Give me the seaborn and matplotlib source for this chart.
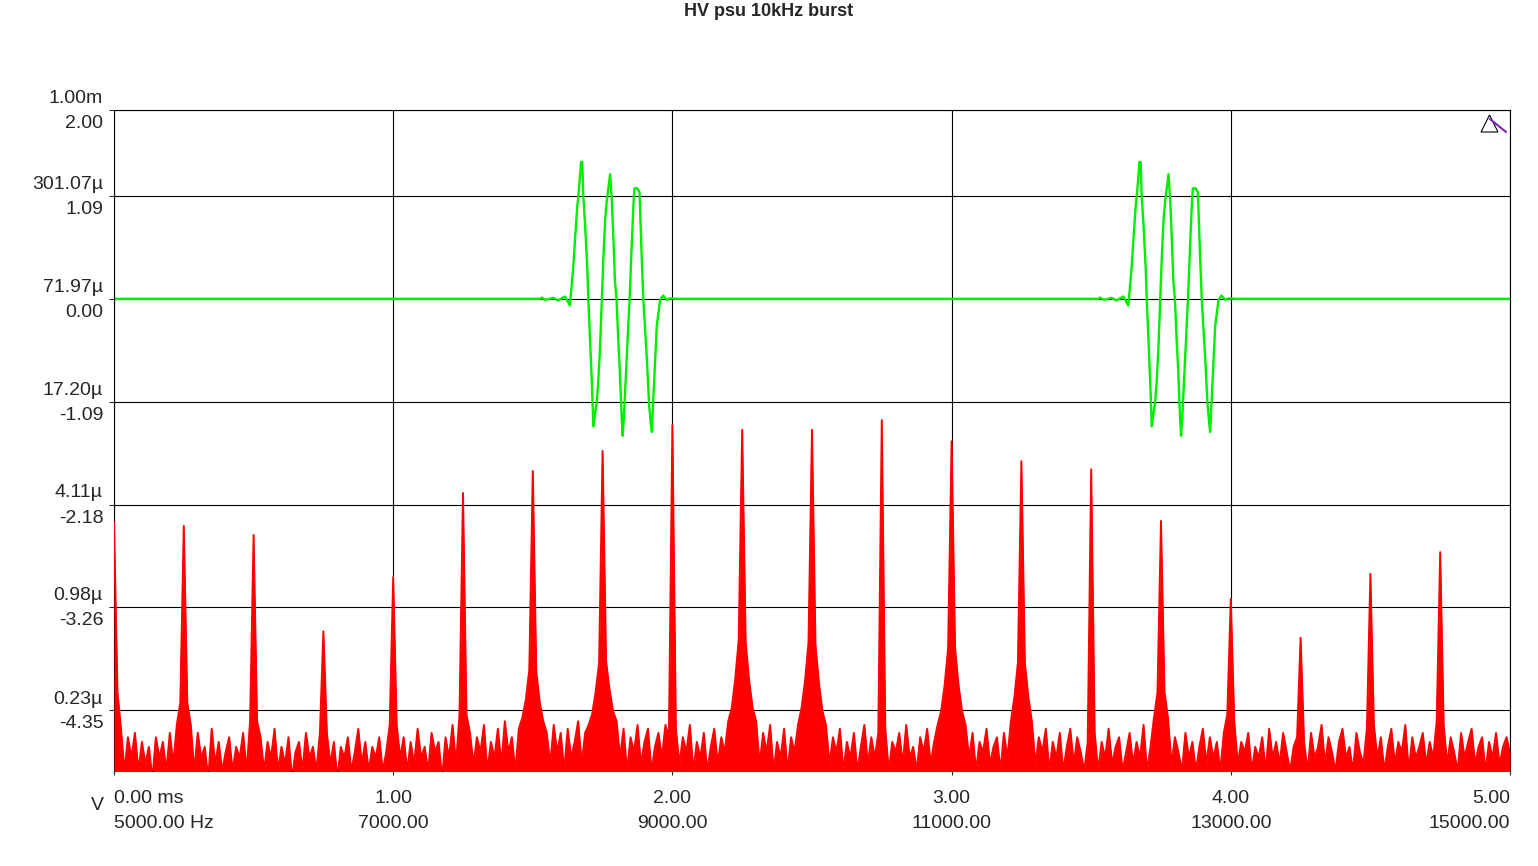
import numpy as np
import seaborn as sns
import matplotlib
matplotlib.use("Agg")
import matplotlib.pyplot as plt
from matplotlib.patches import Polygon
from matplotlib.lines import Line2D
from matplotlib.ticker import NullLocator
from matplotlib.transforms import ScaledTranslation

title = "HV psu 10kHz burst"

# green trace: one burst of the time-domain signal (ms, V), repeated every 2 ms
burst_t_ms = [1.526, 1.532, 1.544, 1.556, 1.573, 1.591, 1.615, 1.633, 1.639, 1.645,
              1.651, 1.659, 1.665, 1.673, 1.677, 1.681, 1.687, 1.695, 1.699, 1.705,
              1.711, 1.717, 1.723, 1.729, 1.735, 1.741, 1.747, 1.753, 1.759, 1.765,
              1.771, 1.777, 1.783, 1.789, 1.794, 1.800, 1.806, 1.812, 1.818, 1.822,
              1.827, 1.834, 1.842, 1.848, 1.854, 1.860, 1.864, 1.874, 1.882, 1.884,
              1.890, 1.896, 1.908, 1.917, 1.926, 1.932, 1.938, 1.944, 1.956, 1.967,
              1.980, 1.991, 2.021]
burst_v = [0.00, 0.014, -0.01, -0.003, 0.011, -0.017, 0.025, -0.07, 0.13, 0.34,
           0.62, 0.97, 1.15, 1.45, 1.45, 1.08, 0.80, 0.34, -0.01, -0.43,
           -0.85, -1.35, -1.21, -1.10, -0.85, -0.50, -0.01, 0.45, 0.83, 1.04,
           1.18, 1.32, 1.04, 0.62, 0.20, -0.01, -0.43, -0.78, -1.24, -1.45,
           -1.21, -0.78, -0.29, 0.09, 0.55, 0.97, 1.17, 1.17, 1.13, 0.97,
           0.45, -0.01, -0.61, -1.14, -1.41, -1.03, -0.64, -0.29, -0.01, 0.035,
           -0.01, 0.005, 0.0]
burst_offsets_ms = [0.0, 2.0]
time_span_ms = [0.0, 5.0]

# red trace: spectrum magnitude in 25 Hz bins, 5 kHz .. 15 kHz (uV), one row per kHz
bin_start_hz = 5000
bin_hz = 25
floor_rows_uv = [
    [0.12, 0.30, 0.18, 0.10, 0.16, 0.12, 0.17, 0.10, 0.15, 0.11, 0.14, 0.09, 0.16, 0.12, 0.15, 0.10, 0.17, 0.11, 0.19, 0.26,
     0.12, 0.26, 0.19, 0.10, 0.17, 0.12, 0.14, 0.09, 0.18, 0.11, 0.15, 0.10, 0.13, 0.16, 0.10, 0.14, 0.12, 0.17, 0.10, 0.20],
    [0.12, 0.20, 0.16, 0.10, 0.15, 0.12, 0.18, 0.10, 0.14, 0.11, 0.16, 0.09, 0.13, 0.15, 0.10, 0.17, 0.12, 0.14, 0.10, 0.17,
     0.12, 0.17, 0.11, 0.15, 0.09, 0.14, 0.12, 0.16, 0.10, 0.13, 0.18, 0.11, 0.15, 0.10, 0.14, 0.12, 0.16, 0.10, 0.13, 0.19],
    [0.12, 0.19, 0.12, 0.16, 0.10, 0.15, 0.11, 0.18, 0.12, 0.14, 0.10, 0.17, 0.13, 0.15, 0.09, 0.16, 0.12, 0.19, 0.11, 0.22,
     0.12, 0.22, 0.17, 0.11, 0.16, 0.13, 0.19, 0.10, 0.15, 0.12, 0.18, 0.11, 0.20, 0.13, 0.16, 0.10, 0.18, 0.21, 0.27, 0.41],
    [0.12, 0.40, 0.26, 0.20, 0.17, 0.11, 0.19, 0.13, 0.17, 0.10, 0.18, 0.12, 0.15, 0.20, 0.11, 0.17, 0.19, 0.22, 0.30, 0.45,
     0.12, 0.46, 0.31, 0.23, 0.20, 0.12, 0.18, 0.10, 0.16, 0.13, 0.19, 0.11, 0.15, 0.18, 0.10, 0.14, 0.17, 0.12, 0.19, 0.16],
    [0.12, 0.18, 0.11, 0.16, 0.13, 0.19, 0.10, 0.15, 0.12, 0.17, 0.10, 0.14, 0.18, 0.11, 0.16, 0.13, 0.20, 0.24, 0.36, 0.62,
     0.12, 0.60, 0.35, 0.24, 0.20, 0.11, 0.17, 0.13, 0.19, 0.10, 0.15, 0.12, 0.18, 0.10, 0.16, 0.13, 0.19, 0.24, 0.35, 0.60],
    [0.12, 0.58, 0.34, 0.23, 0.19, 0.11, 0.16, 0.13, 0.18, 0.10, 0.15, 0.12, 0.17, 0.10, 0.14, 0.19, 0.11, 0.16, 0.12, 0.17,
     0.12, 0.18, 0.10, 0.15, 0.13, 0.17, 0.11, 0.19, 0.12, 0.14, 0.10, 0.16, 0.13, 0.18, 0.11, 0.15, 0.19, 0.23, 0.33, 0.55],
    [0.12, 0.55, 0.33, 0.23, 0.19, 0.12, 0.17, 0.10, 0.15, 0.13, 0.18, 0.11, 0.14, 0.16, 0.10, 0.17, 0.12, 0.20, 0.28, 0.45,
     0.12, 0.45, 0.28, 0.20, 0.11, 0.16, 0.13, 0.18, 0.10, 0.15, 0.12, 0.17, 0.10, 0.14, 0.18, 0.11, 0.16, 0.13, 0.10, 0.15],
    [0.12, 0.17, 0.10, 0.15, 0.12, 0.18, 0.11, 0.14, 0.16, 0.10, 0.13, 0.17, 0.11, 0.15, 0.12, 0.19, 0.10, 0.14, 0.21, 0.30,
     0.12, 0.30, 0.21, 0.11, 0.16, 0.13, 0.10, 0.17, 0.12, 0.15, 0.10, 0.14, 0.18, 0.11, 0.16, 0.12, 0.15, 0.10, 0.17, 0.22],
    [0.12, 0.20, 0.11, 0.15, 0.13, 0.17, 0.10, 0.14, 0.12, 0.16, 0.10, 0.18, 0.12, 0.15, 0.11, 0.17, 0.13, 0.10, 0.14, 0.16,
     0.12, 0.15, 0.10, 0.17, 0.12, 0.14, 0.19, 0.11, 0.16, 0.13, 0.10, 0.15, 0.18, 0.12, 0.14, 0.10, 0.17, 0.13, 0.11, 0.18],
    [0.12, 0.19, 0.12, 0.16, 0.10, 0.14, 0.18, 0.11, 0.15, 0.13, 0.19, 0.10, 0.16, 0.12, 0.14, 0.17, 0.11, 0.15, 0.12, 0.20,
     0.12, 0.19, 0.11, 0.16, 0.13, 0.10, 0.17, 0.12, 0.15, 0.18, 0.11, 0.14, 0.16, 0.10, 0.15, 0.12, 0.17, 0.11, 0.14, 0.16],
]
last_bin_uv = 0.13

# harmonics of the 500 Hz burst rate
harmonic_hz = [5000, 5500, 6000, 6500, 7000, 7500, 8000, 8500, 9000, 9500,
               10000, 10500, 11000, 11500, 12000, 12500, 13000, 13500, 14000, 14500]
harmonic_uv = [3.20, 3.04, 2.68, 0.70, 1.49, 4.81, 6.54, 8.65, 12.4, 11.6,
               11.6, 13.3, 9.9, 7.5, 6.7, 3.26, 1.10, 0.64, 1.56, 2.11]

time_ticks = [0, 1, 2, 3, 4, 5]
time_labels = ["0.00 ms", "1.00", "2.00", "3.00", "4.00", "5.00"]
freq_ticks = [5000, 7000, 9000, 11000, 13000, 15000]
freq_labels = ["5000.00 Hz", "7000.00", "9000.00", "11000.00", "13000.00", "15000.00"]
volt_ticks = [2.00, 1.09, 0.00, -1.09, -2.18, -3.26, -4.35]
volt_labels = ["2.00", "1.09", "0.00", "-1.09", "-2.18", "-3.26", "-4.35"]
mag_ticks = [1.00e-3, 301.07e-6, 71.97e-6, 17.20e-6, 4.11e-6, 0.98e-6, 0.23e-6]
mag_labels = ["1.00m", "301.07\u00b5", "71.97\u00b5", "17.20\u00b5", "4.11\u00b5", "0.98\u00b5", "0.23\u00b5"]


def main():
    sns.set_style("white")
    plt.rcParams['font.family'] = ['Liberation Sans', 'DejaVu Sans']
    plt.rcParams['font.size'] = 14

    W, H = 1538, 866
    fig = plt.figure(figsize=(W / 100, H / 100), dpi=100)
    rect = [114 / W, 1 - 771 / H, (1510 - 114) / W, (771 - 110) / H]

    # time-domain axes (bottom, owns the grid)
    ax_g = fig.add_axes(rect)
    # spectrum axes drawn on top, transparent
    ax_r = fig.add_axes(rect)
    ax_r.set_zorder(ax_g.get_zorder() + 1)
    ax_r.set_facecolor("none")

    # build traces
    t = [time_span_ms[0]]
    v = [0.0]
    for off in burst_offsets_ms:
        t += [x + off for x in burst_t_ms]
        v += burst_v
    t.append(time_span_ms[1])
    v.append(0.0)

    mag_uv = np.array(sum(floor_rows_uv, []) + [last_bin_uv])
    freq = bin_start_hz + bin_hz * np.arange(len(mag_uv))
    for h, p in zip(harmonic_hz, harmonic_uv):
        mag_uv[(h - bin_start_hz) // bin_hz] = p

    ax_r.fill_between(freq, mag_uv * 1e-6, 1e-8, color="#ff0000", linewidth=0)
    sns.lineplot(x=freq, y=mag_uv * 1e-6, ax=ax_r, color="#ff0000", linewidth=1.4,
                 estimator=None, sort=False)
    sns.lineplot(x=t, y=v, ax=ax_g, color="#00ee00", linewidth=1.7,
                 estimator=None, sort=False)

    # green axes: linear volts / ms
    ax_g.set_xlim(0, 5)
    ax_g.set_ylim(-5, 2)
    ax_g.set_xticks(time_ticks, time_labels)
    ax_g.set_yticks(volt_ticks, volt_labels)
    ax_g.grid(True, color="black", linewidth=0.8)
    ax_g.set_axisbelow(True)
    ax_g.tick_params(axis="x", direction="out", length=3, width=0.8, pad=11,
                     bottom=True, labelsize=14)
    ax_g.tick_params(axis="y", direction="out", length=3.6, width=0.8, pad=4,
                     left=True, labelsize=14)
    for s in ax_g.spines.values():
        s.set_color("black")
        s.set_linewidth(0.8)
    ax_g.set_xlabel("")
    ax_g.set_ylabel("")

    # red axes: log magnitude / Hz
    ax_r.set_xlim(5000, 15000)
    ax_r.set_yscale("log")
    ax_r.set_ylim(1e-7, 1e-3)
    ax_r.yaxis.set_minor_locator(NullLocator())
    ax_r.xaxis.set_minor_locator(NullLocator())
    ax_r.set_xticks(freq_ticks, freq_labels)
    ax_r.set_yticks(mag_ticks, mag_labels)
    ax_r.tick_params(axis="x", length=0, pad=32, labelsize=14)
    ax_r.tick_params(axis="y", length=0, pad=8, labelsize=14)
    for s in ax_r.spines.values():
        s.set_visible(False)
    ax_r.set_xlabel("")
    ax_r.set_ylabel("")

    for ax in (ax_g, ax_r):
        labs = ax.get_xticklabels()
        labs[0].set_ha("left")
        labs[-1].set_ha("right")
    down = ScaledTranslation(0, -5 / 100, fig.dpi_scale_trans)
    up = ScaledTranslation(0, 3 / 100, fig.dpi_scale_trans)
    for lab in ax_g.get_yticklabels():
        lab.set_va("top")
        lab.set_transform(lab.get_transform() + down)
    for lab in ax_r.get_yticklabels():
        lab.set_va("bottom")
        lab.set_transform(lab.get_transform() + up)

    fig.text(0.5, 1 - 11 / H, title, ha="center", va="center",
             fontsize=13, fontweight="bold")
    fig.text(97 / W, 1 - 806 / H, "V", ha="center", va="center", fontsize=14)

    # small probe icon in the top-right corner
    tri = [(1481, 132), (1489.5, 115), (1498, 132)]
    fig.add_artist(Polygon([(x / W, 1 - y / H) for x, y in tri], closed=True,
                           fill=False, edgecolor="black", linewidth=0.8,
                           transform=fig.transFigure))
    fig.add_artist(Line2D([1490 / W, 1506 / W], [1 - 119 / H, 1 - 132 / H],
                          color="#3030ff", linewidth=1.5, transform=fig.transFigure))
    fig.add_artist(Line2D([1490 / W, 1506 / W], [1 - 119 / H, 1 - 132 / H],
                          color="#ff2020", linewidth=1.0, dashes=(1, 1),
                          transform=fig.transFigure))

    fig.savefig("out.png", dpi=100, facecolor="white")


if __name__ == '__main__':
    main()
